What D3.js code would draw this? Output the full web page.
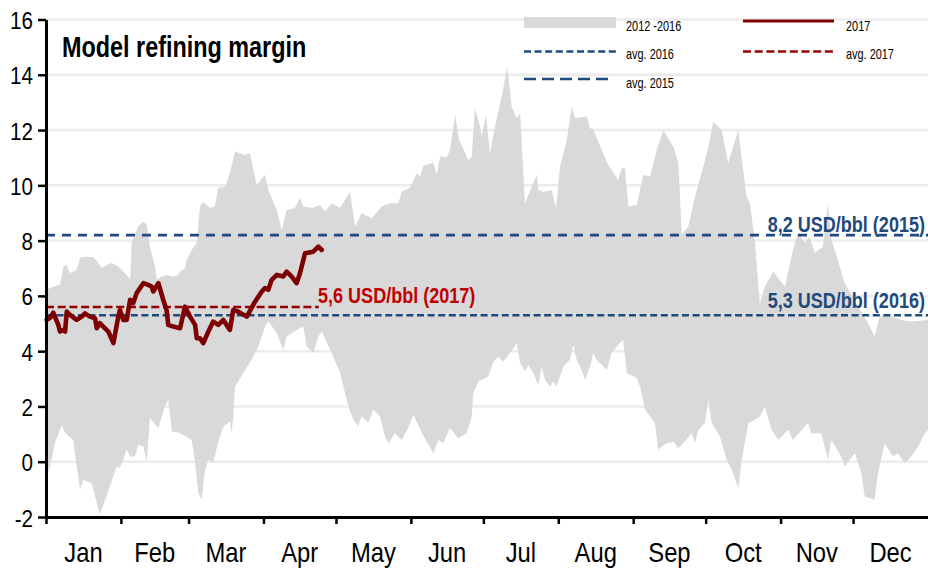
<!DOCTYPE html>
<html>
<head>
<meta charset="utf-8">
<script src="https://cdn.jsdelivr.net/npm/d3@7"></script>
<style>
  html, body { margin: 0; padding: 0; background: #fff; }
  svg { display: block; }
</style>
</head>
<body>
<svg id="chart" width="928" height="568"></svg>
<script>
// Day-of-year offsets and margins (USD/bbl)

// 2012-2016 range: upper envelope
const upperDays = [0,3,5.8,7.2,8.6,9.9,12.7,14.1,16.1,19.6,
  21.6,23.1,25.1,27.2,29.9,32.7,34.8,35.5,38.2,40.3,
  41.7,43,45.1,45.8,47.9,49.9,52.7,54.8,55.5,57.5,
  58.2,60.3,62.4,63.7,65.1,67.9,69.9,71.2,74.1,76.1,
  78.2,82.4,84.4,87.2,90.6,92,95.5,97.5,99.6,103,
  105.1,106.5,110,113.4,115.5,118.2,121.7,125.8,127.9,130.6,
  134.8,138.9,142.4,145.8,147.2,150.6,153.4,154.8,156.1,160.3,
  161.7,163.1,165.8,167.2,169.3,171,174.8,176.2,177.5,179.6,
  180.3,182.1,183.7,185.8,188.6,190.9,192.7,194.8,196.2,198.2,
  203.1,203.7,205.8,209.3,211.1,212.7,215.5,217.6,218.9,223.8,
  225.1,226.5,230,232.7,236.8,238.2,239.6,241,244.5,247.2,
  250,252.7,255.5,259.6,261.7,263.1,265.8,268.6,272,274.1,
  276.1,279.6,282.3,286.5,289.9,291.3,293.4,295.4,297.5,301,
  303,305.8,309.1,311.2,314,316,318.1,321.5,323.6,325,
  327.7,330.5,335.6,340.1,342.9,345,348.4,354,357.4,365];
const upperValues = [6.22,6.34,6.40,7.06,7.12,6.83,6.94,7.38,7.42,7.41,
  7.19,7.01,7.12,7.19,7.06,6.83,6.58,7.92,8.51,8.69,
  8.57,7.78,7.06,6.58,6.70,6.76,6.70,6.76,6.88,7.01,
  7.30,7.66,7.92,9.23,9.41,9.18,9.23,9.91,9.95,10.44,
  11.22,11.10,11.17,10.01,10.38,9.83,9.11,8.38,9.11,9.18,
  9.54,9.23,9.18,9.29,9.04,9.35,9.18,9.77,8.51,8.99,
  8.81,9.23,9.35,9.35,9.77,9.91,10.44,10.31,10.70,10.82,
  10.38,11.04,11.02,11.28,12.55,11.64,10.92,11.04,12.79,12.12,
  11.76,12.55,11.16,12.12,13.21,14.29,12.85,12.43,12.61,9.35,
  10.38,9.83,9.77,9.83,9.17,10.68,11.64,12.85,12.43,12.49,
  12.07,12.01,11.28,10.74,10.20,10.62,10.62,9.23,9.29,10.38,
  10.32,11.28,12.00,11.40,10.80,8.21,8.51,9.59,10.68,11.40,
  12.30,12.00,10.80,12.00,9.59,9.35,7.91,5.73,6.34,6.88,
  6.64,6.34,7.66,8.28,7.92,8.14,7.56,7.78,9.35,8.03,
  7.30,6.46,5.67,5.03,4.53,5.25,5.31,5.13,5.07,5.13];

// 2012-2016 range: lower envelope
const lowerDays = [0,1.7,3.7,6.5,7.9,11.3,12.7,14.1,15.4,18.9,
  22.3,29.3,30.6,33.4,34.8,36.8,38.2,40.3,41.7,43,
  46.5,49.2,50.6,52.1,55.5,60.3,61.7,63,64.4,65.8,
  67.2,69.2,71.3,73.4,76.1,76.8,77.5,78.2,85.1,87.9,
  90.6,92,95.5,98.2,99.6,103.7,106.5,107.9,110.6,112.7,
  114.1,118.2,121.7,125.1,127.2,129.2,130.6,133.4,135.5,138.2,
  140.3,141.7,144.4,147.2,149.9,152,155.5,160.3,162.4,164.4,
  167.2,170.6,174.1,176.2,176.8,178.9,183,185.1,187.2,189.2,
  192,194.8,196.2,198.2,199.6,201.7,203.7,205.1,206.5,208.6,
  209.9,211.3,214.1,216.8,218.2,219.6,221.7,223.1,225.1,226.5,
  227.9,229.3,232.1,234.1,236.8,238.9,240.3,244.5,245.8,247.9,
  252,253.4,254.8,256.9,259.6,261.7,264.4,267.2,268.6,269.9,
  272.7,274.1,275.5,278.9,281.7,283.8,286.5,287.9,290.7,293.4,
  295.4,297.5,300.3,303.1,307.1,309.1,315.3,316.7,320.8,323.6,
  325,329.1,330.5,334.7,337.4,338.8,342.9,344.3,347.1,350.5,
  352.6,355.4,358.1,360.9,363.7,365];
const lowerValues = [-0.59,-0.17,0.68,1.33,1.05,0.79,-0.17,-1.02,-0.66,-0.77,
  -1.92,-0.17,-0.23,0.43,0.19,0.19,0.61,0.55,0.01,1.58,
  1.22,2.00,2.24,1.09,1.04,0.79,-0.04,-1.13,-1.38,-0.29,
  0.07,-0.04,0.73,1.27,1.45,1.05,1.63,2.72,3.69,4.17,
  4.89,5.07,4.66,4.05,4.53,4.77,4.89,4.17,3.93,4.53,
  4.71,3.93,3.21,2.00,1.52,1.28,1.64,1.40,1.88,1.64,
  0.91,0.67,1.03,0.79,1.22,1.70,1.05,0.31,0.79,0.68,
  1.22,0.85,1.03,1.63,2.48,2.90,3.08,3.62,3.80,3.62,
  3.93,4.29,3.57,3.26,3.50,3.20,2.78,3.44,2.96,2.72,
  2.90,2.72,3.44,3.69,4.23,3.69,3.32,2.96,3.44,3.93,
  3.69,3.56,3.32,3.93,4.23,4.41,3.21,3.02,2.72,1.88,
  1.40,0.43,0.55,0.67,0.73,0.49,0.73,1.03,0.67,1.15,
  1.40,2.24,1.40,0.91,0.07,-0.29,-0.95,0.07,1.40,1.52,
  1.63,2.00,1.16,0.79,1.16,0.79,1.40,1.03,1.03,0.07,
  0.79,0.19,-0.17,0.31,-0.41,-1.26,-1.38,-0.41,0.67,0.19,
  0.31,-0.05,0.19,0.55,1.03,1.15];

// 2017 so far
const days2017 = [0.3,1.7,3,5.1,5.8,7.2,7.9,8.6,9.9,12.7,
  14.8,16.1,18.2,20.3,21,22.3,23.7,25.8,27.9,29.9,
  30.6,32,33.4,34.8,36.1,37.5,40.3,42.3,43.7,44.4,
  46.5,48.5,49.9,50.6,52.7,55.5,57.5,59.6,61.7,62.4,
  63.7,65.1,67.2,69.2,71.3,73.4,76.1,77.5,79.6,83.1,
  86.5,89.3,90.6,92,93.4,95.5,98.2,99.6,101.7,103.7,
  105.1,105.8,107.2,110.6,112.7,114.1];
const values2017 = [5.13,5.21,5.39,4.95,4.71,4.77,4.71,5.43,5.31,5.13,
  5.25,5.37,5.25,5.19,4.83,5.01,4.89,4.71,4.29,5.25,
  5.49,5.13,5.13,5.86,5.74,6.10,6.46,6.40,6.34,6.16,
  6.46,5.86,5.49,4.95,4.89,4.83,5.61,5.25,4.95,4.47,
  4.47,4.29,4.71,5.07,4.95,5.13,4.77,5.49,5.43,5.25,
  5.79,6.16,6.28,6.22,6.58,6.76,6.70,6.88,6.70,6.46,
  6.82,7.06,7.54,7.60,7.78,7.66];

// Yearly averages
const avg2015 = 8.2;
const avg2016 = 5.3;
const avg2017 = 5.6;

const monthLabels = ["Jan","Feb","Mar","Apr","May","Jun","Jul","Aug","Sep","Oct","Nov","Dec"];
const yTicks = [-2,0,2,4,6,8,10,12,14,16];

const labelText2015 = "8,2 USD/bbl (2015)";
const labelText2016 = "5,3 USD/bbl (2016)";
const labelText2017 = "5,6 USD/bbl (2017)";

const legendItems = ["2012 -2016", "avg. 2016", "avg. 2015", "2017", "avg. 2017"];

// ---------------------------------------------------------------
const FONT = '"Liberation Sans", Arial, Helvetica, sans-serif';
const BLUE = "#1f4a7e";
const DARKRED = "#7f0000";
const RED_DASH = "#990000";
const RED_TEXT = "#c00000";
const BAND = "#d9d9d9";
const GRID = "#ececec";

const svg = d3.select("#chart");
const t0 = Date.UTC(2017, 0, 1);
const dayDate = d => new Date(t0 + d * 864e5);

const x = d3.scaleUtc().domain([new Date(t0), new Date(Date.UTC(2018, 0, 1))]).range([46, 928]);
const y = d3.scaleLinear().domain([-2, 16]).range([517, 19.5]);

function txt(sel, px, py, str, o) {
  return sel.append("text")
    .attr("transform", `translate(${px},${py}) scale(${o.sx || 0.82},1)`)
    .attr("text-anchor", o.anchor || "start")
    .attr("font-family", FONT)
    .attr("font-size", o.size)
    .attr("font-weight", o.weight || "normal")
    .attr("fill", o.fill || "#000")
    .text(str);
}

// gridlines
svg.append("g").selectAll("line").data(yTicks).join("line")
  .attr("x1", x.range()[0]).attr("x2", x.range()[1])
  .attr("y1", d => y(d)).attr("y2", d => y(d))
  .attr("stroke", GRID).attr("stroke-width", 2.5);

// 2012-2016 band
const upperPts = upperDays.map((d, i) => [dayDate(d), upperValues[i]]);
const lowerPts = lowerDays.map((d, i) => [dayDate(d), lowerValues[i]]);
const poly = d3.line().x(p => x(p[0])).y(p => y(p[1]));
svg.append("path")
  .attr("d", poly(upperPts.concat(lowerPts.slice().reverse())) + "Z")
  .attr("fill", BAND).attr("stroke", "none");

// average lines
const yearStart = dayDate(0), yearEnd = dayDate(365);
svg.append("line")
  .attr("x1", x(yearStart)).attr("x2", x(yearEnd))
  .attr("y1", y(avg2015)).attr("y2", y(avg2015))
  .attr("stroke", BLUE).attr("stroke-width", 2.6).attr("stroke-dasharray", "9,7");
svg.append("line")
  .attr("x1", x(yearStart)).attr("x2", x(yearEnd))
  .attr("y1", y(avg2016)).attr("y2", y(avg2016))
  .attr("stroke", BLUE).attr("stroke-width", 2.4).attr("stroke-dasharray", "7,3.6");
svg.append("line")
  .attr("x1", x(yearStart)).attr("x2", x(dayDate(days2017[days2017.length - 1])) - 3)
  .attr("y1", y(avg2017)).attr("y2", y(avg2017))
  .attr("stroke", RED_DASH).attr("stroke-width", 2.6).attr("stroke-dasharray", "8,3.7");

// 2017 line
const line2017 = d3.line().x(d => x(dayDate(d))).y((d, i) => y(values2017[i]));
svg.append("path")
  .attr("d", line2017(days2017))
  .attr("fill", "none").attr("stroke", DARKRED)
  .attr("stroke-width", 4.6).attr("stroke-linejoin", "round").attr("stroke-linecap", "round");

// value labels
txt(svg, 925, y(avg2015) - 3.5, labelText2015, { size: 22, weight: "bold", fill: BLUE, anchor: "end" });
txt(svg, 925, y(avg2016) - 7, labelText2016, { size: 22, weight: "bold", fill: BLUE, anchor: "end" });
txt(svg, 318, y(avg2017) - 3.5, labelText2017, { size: 22, weight: "bold", fill: RED_TEXT, anchor: "start" });

// y axis
const yAxis = svg.append("g").attr("transform", `translate(${x.range()[0]},0)`)
  .call(d3.axisLeft(y).tickValues(yTicks).tickSize(8).tickSizeOuter(0).tickFormat(d => String(d)));
yAxis.select(".domain").attr("stroke", "#000").attr("stroke-width", 3);
yAxis.selectAll(".tick line").attr("stroke", "#000").attr("stroke-width", 2.5);
yAxis.selectAll(".tick text")
  .attr("x", null).attr("dy", null)
  .attr("transform", "translate(-13,9) scale(0.86,1)")
  .attr("font-family", FONT).attr("font-size", 24).attr("fill", "#000");

// x axis
const monthStarts = d3.utcMonth.range(new Date(t0), new Date(Date.UTC(2018, 0, 1)));
const xAxis = svg.append("g").attr("transform", `translate(0,${y(-2)})`)
  .call(d3.axisBottom(x).tickValues(monthStarts).tickSize(7).tickSizeOuter(0).tickFormat(""));
xAxis.select(".domain").attr("stroke", "#000").attr("stroke-width", 3);
xAxis.selectAll(".tick line").attr("stroke", "#000").attr("stroke-width", 2.5);

monthStarts.forEach((m, i) => {
  const next = d3.utcMonth.offset(m, 1);
  const mid = new Date((m.getTime() + next.getTime()) / 2);
  txt(svg, x(mid), 562, monthLabels[i], { size: 28, sx: 0.85, anchor: "middle" });
});

// title
txt(svg, 62, 57, "Model refining margin", { size: 30, weight: "bold", sx: 0.78 });

// legend
const lg = svg.append("g");
lg.append("rect").attr("x", 524).attr("y", 17).attr("width", 92).attr("height", 11).attr("fill", BAND);
txt(lg, 626, 31, legendItems[0], { size: 14, sx: 0.78 });
lg.append("line").attr("x1", 524).attr("x2", 616).attr("y1", 51.5).attr("y2", 51.5)
  .attr("stroke", BLUE).attr("stroke-width", 2.6).attr("stroke-dasharray", "7,3.6");
txt(lg, 626, 58.5, legendItems[1], { size: 14, sx: 0.78 });
lg.append("line").attr("x1", 524).attr("x2", 608).attr("y1", 79).attr("y2", 79)
  .attr("stroke", BLUE).attr("stroke-width", 2.6).attr("stroke-dasharray", "12,6");
txt(lg, 626, 87.5, legendItems[2], { size: 14, sx: 0.78 });
lg.append("line").attr("x1", 743).attr("x2", 834).attr("y1", 21).attr("y2", 21)
  .attr("stroke", DARKRED).attr("stroke-width", 3);
txt(lg, 846, 31, legendItems[3], { size: 14, sx: 0.78 });
lg.append("line").attr("x1", 743).attr("x2", 834).attr("y1", 51.5).attr("y2", 51.5)
  .attr("stroke", RED_DASH).attr("stroke-width", 2.6).attr("stroke-dasharray", "8,3.7");
txt(lg, 846, 58.5, legendItems[4], { size: 14, sx: 0.78 });
</script>
</body>
</html>
